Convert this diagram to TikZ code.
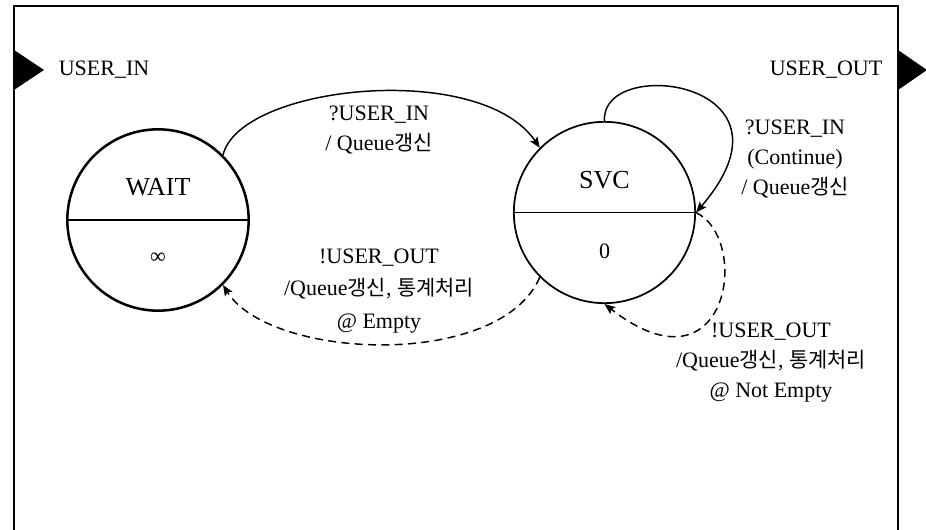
\documentclass[tikz,border=0pt]{standalone}
\usepackage{fontspec}
\setmainfont{Liberation Serif}
\newfontfamily\krfont{Noto Sans CJK KR}[Scale=0.95]
\newcommand{\hgl}[1]{{\krfont #1}}
\usetikzlibrary{arrows.meta}
\tikzset{
  state/.style={draw, circle, minimum size=136pt, inner sep=0pt},
  statename/.style={font=\fontsize{19.5}{22}\selectfont},
  lbl/.style={align=center, font=\fontsize{16.5}{22.5}\selectfont, inner sep=1pt},
  trans/.style={line width=1.1pt, -{Stealth[length=8pt,width=6.5pt,inset=1.5pt]}},
  sendtrans/.style={trans, dash pattern=on 6pt off 4pt}
}
\begin{document}
\begin{tikzpicture}[x=0.75pt, y=-0.75pt]
  \useasboundingbox (0,0) rectangle (926,530);
  % Block frame (open at the bottom)
  \draw[line width=1.5pt] (14,530) -- (14,6) -- (898,6) -- (898,530);
  % Port triangles
  \fill[black] (14,50) -- (14,90) -- (44,70) -- cycle;
  \fill[black] (898,50) -- (898,90) -- (927,70) -- cycle;
  \node[lbl] (inport) at (104,70) {USER\_IN};
  \node[lbl] (outport) at (826,70) {USER\_OUT};
  % States
  \node[state, line width=1.9pt] (wait) at (158,220) {};
  \draw[line width=1.9pt] (wait.west) -- (wait.east);
  \node[statename] (waitname) at (158,187) {WAIT};
  \node[lbl] (waittime) at (158,258) {∞};
  \node[state, line width=1.3pt] (svc) at (604.5,212.5) {};
  \draw[line width=1.3pt] (svc.west) -- (svc.east);
  \node[statename] (svcname) at (604.5,180) {SVC};
  \node[lbl] (svctime) at (604.5,251) {0};
  % Transitions
  \draw[trans] (wait.45) .. controls (240,85) and (480,60) .. (svc.135);
  \node[lbl] (inlbl) at (379,130) {?USER\_IN\\/ Queue\hgl{갱신}};
  \draw[trans] (svc.90) .. controls (600,55) and (810,80) .. (svc.east);
  \node[lbl] (looplbl) at (795,159) {?USER\_IN\\(Continue)\\/ Queue\hgl{갱신}};
  \draw[sendtrans] (svc.225) .. controls (500,370) and (270,360) .. (wait.-45);
  \node[lbl] (emptylbl) at (379,291) {!USER\_OUT\\[2pt]/Queue\hgl{갱신}, \hgl{통계처리}\\[2pt]@ Empty};
  \draw[sendtrans] (svc.east) .. controls (752,240) and (728,400) .. (svc.south);
  \node[lbl] (nemptylbl) at (771,363) {!USER\_OUT\\/Queue\hgl{갱신}, \hgl{통계처리}\\@ Not Empty};
\end{tikzpicture}
\end{document}
